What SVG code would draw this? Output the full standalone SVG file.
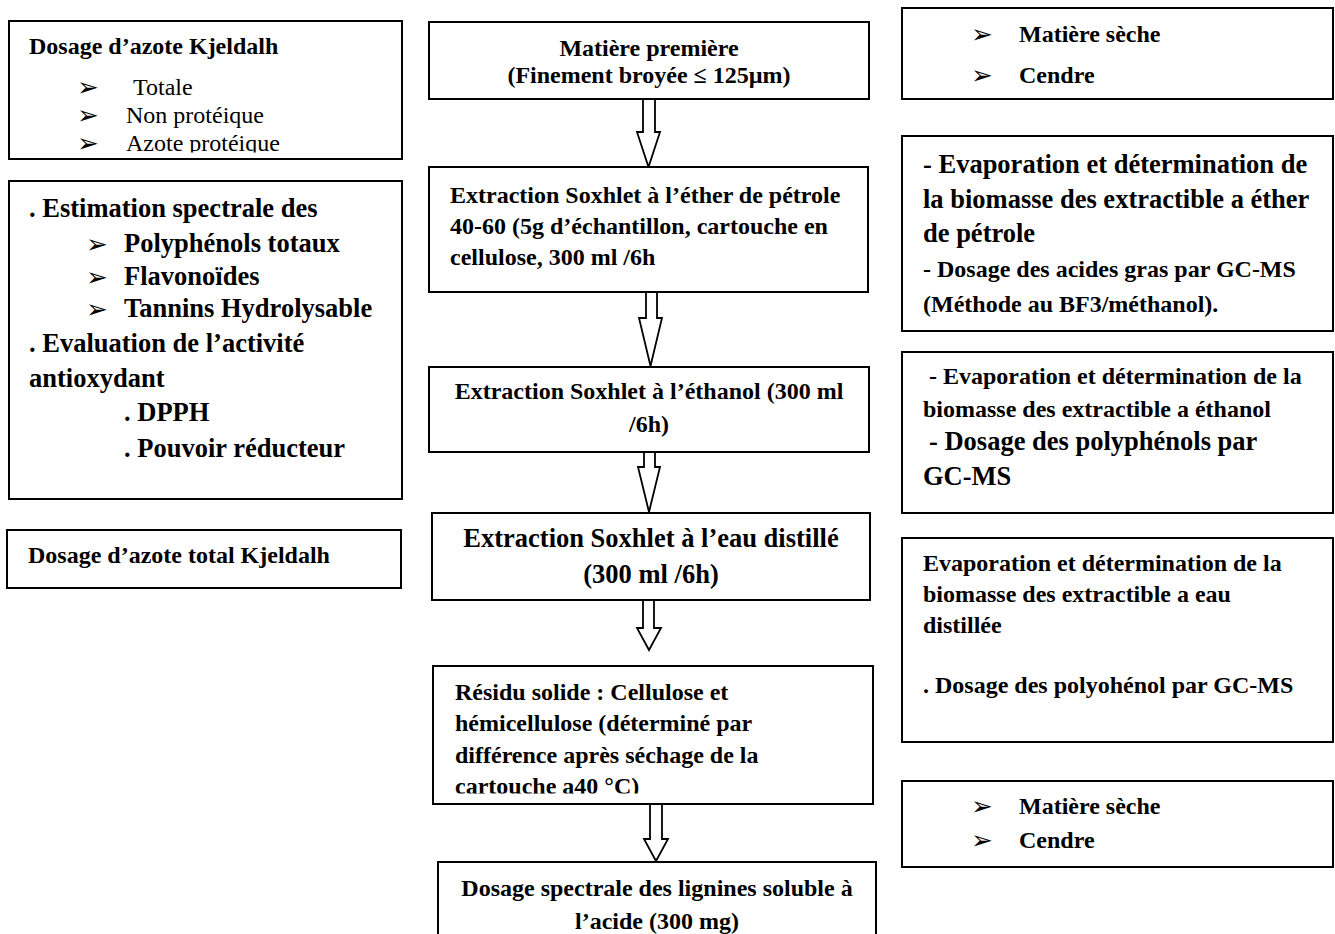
<svg xmlns="http://www.w3.org/2000/svg" width="1335" height="934" viewBox="0 0 1335 934">
<style>
.box{fill:#fff;stroke:#000;stroke-width:2}
.arr{fill:#fff;stroke:#000;stroke-width:1.8;stroke-linejoin:miter}
text{font-family:"Liberation Serif","Times New Roman",serif;fill:#000}
.b{font-weight:bold;font-size:24px}
.bl{font-weight:bold;font-size:26.5px}
.r{font-weight:normal;font-size:24px}
.m{text-anchor:middle}
.bul{font-family:"DejaVu Sans",sans-serif;font-size:26px}
</style>
<defs>
<clipPath id="clipA"><rect x="10" y="22" width="391" height="130.5"/></clipPath>
<clipPath id="clipJ"><rect x="434" y="667" width="438" height="126.5"/></clipPath>
</defs>
<rect width="1335" height="934" fill="#fff"/>

<g id="connectors">
<polygon class="arr" points="643,99 643,132 637,132 648.5,167 660,132 655,132 655,99"/>
<polygon class="arr" points="646,292 646,318 639,318 650.5,366 662,318 657,318 657,292"/>
<polygon class="arr" points="644,452 644,467 638,467 649,512 660,467 655,467 655,452"/>
<polygon class="arr" points="643,600 643,628 637,628 649,650 661,628 654,628 654,600"/>
<polygon class="arr" points="650,804 650,839 644,839 656,861 668,839 662,839 662,804"/>
</g>

<g id="kjeldahl">
<rect class="box" x="9" y="21" width="393" height="138"/>
<g clip-path="url(#clipA)">
<text class="b" x="29" y="54">Dosage d’azote Kjeldalh</text>
<text class="bul" x="77" y="96">➢</text>
<text class="r" x="133" y="95">Totale</text>
<text class="bul" x="77" y="124">➢</text>
<text class="r" x="126" y="123">Non protéique</text>
<text class="bul" x="77" y="152">➢</text>
<text class="r" x="126" y="151">Azote protéique</text>
</g>
</g>

<g id="estimation">
<rect class="box" x="9" y="181" width="393" height="318"/>
<text class="bl" x="29" y="217">. Estimation spectrale des</text>
<text class="bul" x="86" y="253">➢</text>
<text class="bl" x="124" y="252">Polyphénols totaux</text>
<text class="bul" x="86" y="286">➢</text>
<text class="bl" x="124" y="285">Flavonoïdes</text>
<text class="bul" x="86" y="318">➢</text>
<text class="bl" x="124" y="317">Tannins Hydrolysable</text>
<text class="bl" x="29" y="352">. Evaluation de l’activité</text>
<text class="bl" x="29" y="387">antioxydant</text>
<text class="bl" x="124" y="421">. DPPH</text>
<text class="bl" x="124" y="457">. Pouvoir réducteur</text>
</g>

<g id="azote-total">
<rect class="box" x="7" y="530" width="394" height="58"/>
<text class="b" x="28" y="563">Dosage d’azote total Kjeldalh</text>
</g>

<g id="matiere">
<rect class="box" x="429" y="22" width="440" height="77"/>
<text class="b m" x="649" y="56">Matière première</text>
<text class="b m" x="649" y="83">(Finement broyée ≤ 125µm)</text>
</g>

<g id="ether">
<rect class="box" x="429" y="167" width="439" height="125"/>
<text class="b" x="450" y="203">Extraction Soxhlet à l’éther de pétrole</text>
<text class="b" x="450" y="234">40-60 (5g d’échantillon, cartouche en</text>
<text class="b" x="450" y="265">cellulose, 300 ml /6h</text>
</g>

<g id="ethanol">
<rect class="box" x="429" y="367" width="440" height="85"/>
<text class="b m" x="649" y="399">Extraction Soxhlet à l’éthanol (300 ml</text>
<text class="b m" x="649" y="432">/6h)</text>
</g>

<g id="eau">
<rect class="box" x="432" y="513" width="438" height="87"/>
<text class="bl m" x="651" y="547">Extraction Soxhlet à l’eau distillé</text>
<text class="bl m" x="651" y="583">(300 ml /6h)</text>
</g>

<g id="residu">
<rect class="box" x="433" y="666" width="440" height="138"/>
<g clip-path="url(#clipJ)">
<text class="b" x="455" y="700">Résidu solide : Cellulose et</text>
<text class="b" x="455" y="731">hémicellulose (déterminé par</text>
<text class="b" x="455" y="762.5">différence après séchage de la</text>
<text class="b" x="455" y="794">cartouche a40 °C)</text>
</g>
</g>

<g id="lignines">
<rect class="box" x="438" y="862" width="438" height="100"/>
<text class="b m" x="657" y="896">Dosage spectrale des lignines soluble à</text>
<text class="b m" x="657" y="929">l’acide (300 mg)</text>
</g>

<g id="seche-top">
<rect class="box" x="902" y="8" width="431" height="91"/>
<text class="bul" x="971" y="43">➢</text>
<text class="b" x="1019" y="42">Matière sèche</text>
<text class="bul" x="971" y="84">➢</text>
<text class="b" x="1019" y="83">Cendre</text>
</g>

<g id="evap-ether">
<rect class="box" x="902" y="136" width="431" height="195"/>
<text class="bl" x="923" y="173">- Evaporation et détermination de</text>
<text class="bl" x="923" y="208">la biomasse des extractible a éther</text>
<text class="bl" x="923" y="242">de pétrole</text>
<text class="b" x="923" y="277">- Dosage des acides gras par GC-MS</text>
<text class="b" x="923" y="312">(Méthode au BF3/méthanol).</text>
</g>

<g id="evap-ethanol">
<rect class="box" x="902" y="352" width="431" height="161"/>
<text class="b" x="929" y="384">- Evaporation et détermination de la</text>
<text class="b" x="923" y="417">biomasse des extractible a éthanol</text>
<text class="bl" x="929" y="450">- Dosage des polyphénols par</text>
<text class="bl" x="923" y="485">GC-MS</text>
</g>

<g id="evap-eau">
<rect class="box" x="902" y="538" width="431" height="204"/>
<text class="b" x="923" y="571">Evaporation et détermination de la</text>
<text class="b" x="923" y="602">biomasse des extractible a eau</text>
<text class="b" x="923" y="633">distillée</text>
<text class="b" x="923" y="693">. Dosage des polyohénol par GC-MS</text>
</g>

<g id="seche-bottom">
<rect class="box" x="902" y="781" width="431" height="86"/>
<text class="bul" x="971" y="815">➢</text>
<text class="b" x="1019" y="814">Matière sèche</text>
<text class="bul" x="971" y="849">➢</text>
<text class="b" x="1019" y="848">Cendre</text>
</g>
</svg>
